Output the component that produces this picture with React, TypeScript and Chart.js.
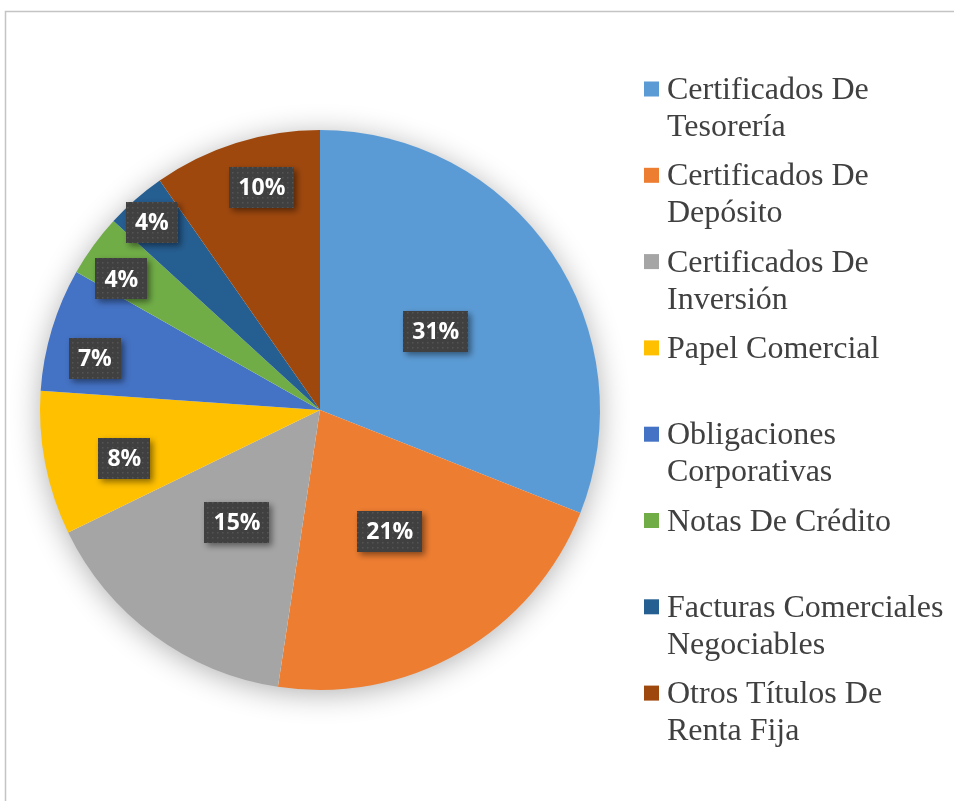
import React, { useEffect, useRef } from "react";
import { Chart, registerables } from "chart.js";

Chart.register(...registerables);

const categories = [
  "Certificados De\nTesorería",
  "Certificados De\nDepósito",
  "Certificados De\nInversión",
  "Papel Comercial",
  "Obligaciones\nCorporativas",
  "Notas De Crédito",
  "Facturas Comerciales\nNegociables",
  "Otros Títulos De\nRenta Fija",
];

const shares = [31.0, 21.4, 15.4, 8.3, 7.1, 3.6, 3.5, 9.7];

const colors = ["#5B9BD5", "#ED7D31", "#A5A5A5", "#FFC000", "#4472C4", "#70AD47", "#255E91", "#9E480E"];

// data label placement (Excel "best fit" look): fraction of radius, fraction of slice angle
const labelRadius = [0.5, 0.5, 0.5, 0.72, 0.825, 0.85, 0.9, 0.82];
const labelAngleFrac = [0.5, 0.5, 0.5, 0.4, 0.35, 0.3, 0.45, 0.58];

function makePattern(ctx: CanvasRenderingContext2D) {
  const c = document.createElement("canvas");
  c.width = 5;
  c.height = 5;
  const p = c.getContext("2d")!;
  p.fillStyle = "#404040";
  p.fillRect(0, 0, 5, 5);
  p.fillStyle = "#545454";
  p.fillRect(2, 2, 1.5, 1.5);
  return ctx.createPattern(c, "repeat")!;
}

const decorPlugin = {
  id: "decor",
  beforeDraw(chart: any) {
    const ctx = chart.ctx as CanvasRenderingContext2D;
    ctx.save();
    ctx.fillStyle = "#ffffff";
    ctx.fillRect(0, 0, chart.width, chart.height);
    ctx.strokeStyle = "#c4c4c4";
    ctx.lineWidth = 1.5;
    ctx.beginPath();
    ctx.moveTo(5.5, chart.height + 5);
    ctx.lineTo(5.5, 11.5);
    ctx.lineTo(chart.width + 5, 11.5);
    ctx.stroke();
    ctx.restore();
  },
  beforeDatasetsDraw(chart: any) {
    const ctx = chart.ctx as CanvasRenderingContext2D;
    const arc = chart.getDatasetMeta(0).data[0];
    if (!arc) return;
    const { x, y, outerRadius } = arc.getProps(["x", "y", "outerRadius"], true);
    ctx.save();
    ctx.shadowColor = "rgba(0,0,0,0.32)";
    ctx.shadowBlur = 30;
    ctx.shadowOffsetY = 4;
    ctx.fillStyle = "#ffffff";
    ctx.beginPath();
    ctx.arc(x, y, outerRadius - 1, 0, Math.PI * 2);
    ctx.fill();
    ctx.restore();
  },
  afterDatasetsDraw(chart: any) {
    const ctx = chart.ctx as CanvasRenderingContext2D;
    const meta = chart.getDatasetMeta(0);
    const data = chart.data.datasets[0].data as number[];
    const total = data.reduce((a, b) => a + b, 0);
    const pattern = makePattern(ctx);
    ctx.save();
    ctx.font = "bold 23px 'Open Sans'";
    meta.data.forEach((el: any, i: number) => {
      const { x, y, startAngle, endAngle, outerRadius } = el.getProps(
        ["x", "y", "startAngle", "endAngle", "outerRadius"],
        true
      );
      const ang = startAngle + (endAngle - startAngle) * labelAngleFrac[i];
      const r = outerRadius * labelRadius[i];
      const cx = x + Math.cos(ang) * r;
      const cy = y + Math.sin(ang) * r;
      const txt = Math.round((data[i] / total) * 100) + "%";
      const w = ctx.measureText(txt).width + 18;
      const h = 41;
      ctx.save();
      ctx.shadowColor = "rgba(0,0,0,0.45)";
      ctx.shadowBlur = 6;
      ctx.shadowOffsetX = 3;
      ctx.shadowOffsetY = 3;
      ctx.fillStyle = pattern;
      ctx.fillRect(Math.round(cx - w / 2), Math.round(cy - h / 2), Math.round(w), h);
      ctx.restore();
      ctx.fillStyle = "#ffffff";
      ctx.textAlign = "center";
      ctx.textBaseline = "middle";
      ctx.fillText(txt, cx, cy + 1);
    });
    ctx.restore();
  },
  afterDraw(chart: any) {
    const ctx = chart.ctx as CanvasRenderingContext2D;
    const labels = chart.data.labels as string[];
    const bg = chart.data.datasets[0].backgroundColor as string[];
    const x0 = 644;
    const y0 = 89;
    const step = 86.3;
    const lineH = 37;
    ctx.save();
    ctx.font = "32px 'Liberation Serif'";
    ctx.textBaseline = "alphabetic";
    ctx.textAlign = "left";
    labels.forEach((lab, i) => {
      const cy = y0 + i * step;
      ctx.fillStyle = bg[i];
      ctx.fillRect(x0, cy - 7.5, 15, 15);
      ctx.fillStyle = "#404040";
      lab.split("\n").forEach((line, j) => {
        ctx.fillText(line, x0 + 23, cy + 10 + j * lineH);
      });
    });
    ctx.restore();
  },
};

export default function App() {
  const ref = useRef<HTMLCanvasElement>(null);
  useEffect(() => {
    if (!ref.current) return;
    const chart = new Chart(ref.current, {
      type: "pie",
      data: {
        labels: categories,
        datasets: [
          {
            data: shares,
            backgroundColor: colors,
            borderWidth: 0,
          },
        ],
      },
      options: {
        responsive: false,
        animation: false,
        rotation: 0,
        layout: { padding: { left: 40, top: 130, right: 354, bottom: 111 } },
        plugins: {
          legend: { display: false },
          tooltip: { enabled: false },
        },
      },
      plugins: [decorPlugin],
    });
    return () => chart.destroy();
  }, []);
  return (
    <canvas
      ref={ref}
      width={954}
      height={801}
      style={{ position: "absolute", left: 0, top: 0, width: 954, height: 801 }}
    />
  );
}
